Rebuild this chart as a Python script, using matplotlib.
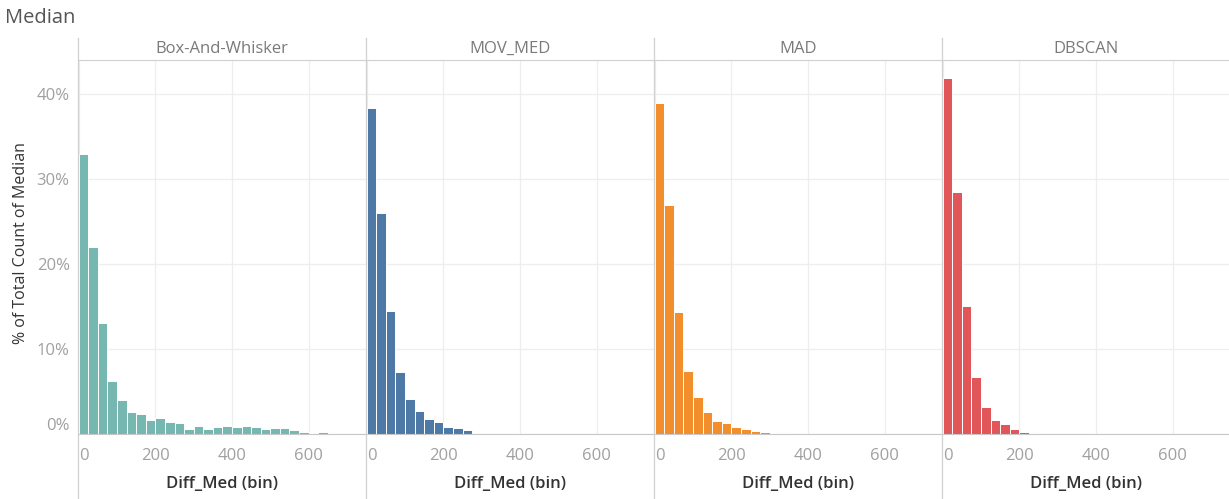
import matplotlib.pyplot as plt
from matplotlib.lines import Line2D
import numpy as np

plt.rcParams["font.family"] = ["Open Sans", "DejaVu Sans"]

BIN_SIZE = 25
METHODS = ["Box-And-Whisker", "MOV_MED", "MAD", "DBSCAN"]
COLORS = ["#76B7B2", "#4E79A7", "#F28E2B", "#E15759"]

# % of total count per 25-wide Diff_Med bin, starting at 0
box_whisker = [32.9, 22.0, 13.1, 6.2, 4.0, 2.55, 2.35, 1.7, 1.9, 1.45, 1.3, 0.6,
               0.9, 0.6, 0.8, 0.9, 0.8, 0.95, 0.8, 0.55, 0.7, 0.7, 0.45, 0.2,
               0.1, 0.25, 0.1, 0.05]
mov_med = [38.4, 26.0, 14.5, 7.3, 4.1, 2.7, 1.8, 1.45, 0.85, 0.75, 0.45, 0.15,
           0.15, 0.15, 0.08, 0.05]
mad = [39.0, 27.0, 14.4, 7.4, 4.3, 2.6, 1.5, 1.25, 0.8, 0.55, 0.3, 0.2, 0.1,
       0.07, 0.05, 0.05]
dbscan = [41.9, 28.5, 15.1, 6.7, 3.2, 1.6, 1.15, 0.55, 0.25, 0.08, 0.05, 0.05,
          0.03, 0.0, 0.05, 0.05, 0.05]
SERIES = [box_whisker, mov_med, mad, dbscan]

Y_TICKS = [0, 10, 20, 30, 40]
X_TICKS = [0, 200, 400, 600]

W, H = 1229, 499
fig = plt.figure(figsize=(W / 100, H / 100), dpi=100)

left0, panel_w = 78, 288
top, base = 60, 434
strip_top = 38

fig.text(5 / W, 1 - 18 / H, "Median", fontsize=14.5, color="#555555",
         ha="left", va="center")
fig.text(21 / W, 1 - 243 / H, "% of Total Count of Median", fontsize=11.5,
         color="#333333", rotation=90, ha="center", va="center")

for i, (name, vals, color) in enumerate(zip(METHODS, SERIES, COLORS)):
    x0 = left0 + i * panel_w
    ax = fig.add_axes([x0 / W, 1 - base / H, panel_w / W, (base - top) / H])
    bins = BIN_SIZE * np.arange(len(vals))
    ax.bar(bins, vals, width=BIN_SIZE, align="edge", color=color,
           edgecolor="white", linewidth=0.7, zorder=2)
    ax.set_xlim(-2, 750)
    ax.set_ylim(0, 44)
    ax.set_xticks(X_TICKS)
    ax.set_yticks(Y_TICKS)
    ax.grid(True, color="#eeeeee", linewidth=0.9, zorder=0)
    for side in ["left", "right"]:
        ax.spines[side].set_visible(False)
    ax.spines["top"].set_color("#d0d0d0")
    ax.spines["bottom"].set_color("#c8c8c8")
    ax.tick_params(axis="x", length=0, labelsize=12, labelcolor="#a0a0a0", pad=10)
    ax.tick_params(axis="y", length=0, labelsize=12, labelcolor="#a0a0a0", pad=6)
    ax.set_xticklabels([str(t) for t in X_TICKS])
    ax.get_xticklabels()[0].set_ha("left")
    if i == 0:
        ax.set_yticklabels([f"{t}%" for t in Y_TICKS])
        ax.get_yticklabels()[0].set_va("bottom")
    else:
        ax.set_yticklabels([])
    ax.set_xlabel("Diff_Med (bin)", fontsize=12, color="#333333",
                  fontweight="semibold", labelpad=9)
    fig.text((x0 + panel_w / 2) / W, 1 - 49 / H, name, fontsize=12,
             color="#7a7a7a", ha="center", va="center")
    fig.add_artist(Line2D([x0 / W, x0 / W], [0, 1 - strip_top / H],
                          color="#d0d0d0", linewidth=0.9))

fig.savefig("out.png", dpi=100)
